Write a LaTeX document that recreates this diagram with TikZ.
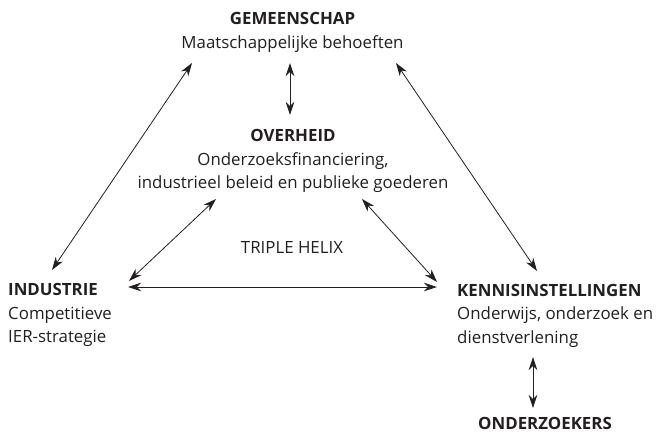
\documentclass[tikz,border=0pt]{standalone}
\usepackage{fontspec}
\setmainfont{Open Sans}
\usetikzlibrary{arrows.meta,calc}
\definecolor{ink}{HTML}{231F20}
\tikzset{
  lbl/.style={inner sep=0pt, align=center, text=ink, font=\fontsize{16.85}{23.5}\selectfont},
  lblL/.style={inner sep=0pt, align=left, text=ink, font=\fontsize{16.85}{23.5}\selectfont},
  link/.style={draw=ink, line width=0.8pt, {Stealth[length=13pt,width=8.5pt,inset=4pt]}-{Stealth[length=13pt,width=8.5pt,inset=4pt]}}
}
\begin{document}
\begin{tikzpicture}[x=1pt,y=-1pt]
\useasboundingbox (0,0) rectangle (658,433);
\node[lbl, anchor=base] (gem) at (292.5,48.5) {\textbf{GEMEENSCHAP}\\Maatschappelijke behoeften};
\node[lbl, anchor=base] (ov) at (293,188.5) {\textbf{OVERHEID}\\Onderzoeksfinanciering,\\industrieel beleid en publieke goederen};
\node[lblL, anchor=base west] (ind) at (8,342.5) {\textbf{INDUSTRIE}\\Competitieve\\IER-strategie};
\node[lblL, anchor=base west] (ken) at (457,343) {\textbf{KENNISINSTELLINGEN}\\Onderwijs, onderzoek en\\dienstverlening};
\node[lbl, anchor=base] (ondz) at (545,429.5) {\textbf{ONDERZOEKERS}};
\node[lbl, anchor=base] (th) at (292,253) {TRIPLE HELIX};
% connectors
\draw[link] ($(gem.base)+(-2.5,14.5)$) -- ($(ov.base)+(-3,-73.5)$);
\draw[link] ($(gem.base)+(-100.5,14.5)$) -- ($(ind.base west)+(44,-72.5)$);
\draw[link] ($(gem.base)+(103.5,14.5)$) -- ($(ken.base west)+(80,-72)$);
\draw[link] ($(ov.base)+(-77,10.5)$) -- ($(ind.base west)+(121,-61.5)$);
\draw[link] ($(ov.base)+(69,10.5)$) -- ($(ken.base west)+(-20,-61)$);
\draw[link] ($(ind.base west)+(120,-55.5)$) -- ($(ken.base west)+(-20,-56)$);
\draw[link] ($(ken.base west)+(76,14)$) -- ($(ondz.base)+(-12,-21.5)$);
\end{tikzpicture}
\end{document}
